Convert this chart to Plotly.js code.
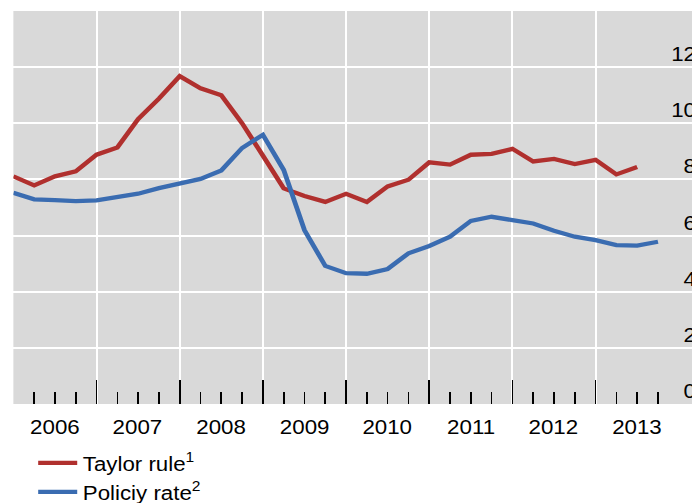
<!DOCTYPE html>
<html>
<head>
<meta charset="utf-8">
<script src="https://cdn.plot.ly/plotly-3.0.1.min.js"></script>
<style>
html,body{margin:0;padding:0;background:#fff;overflow:hidden;width:692px;height:503px;}
#chart{width:628px;height:503px;transform:scaleX(1.115);transform-origin:0 0;}
</style>
</head>
<body>
<div id="chart"></div>
<script>
// quarterly observations, decimal years
var quarters = [2006.00,2006.25,2006.50,2006.75,2007.00,2007.25,2007.50,2007.75,
                2008.00,2008.25,2008.50,2008.75,2009.00,2009.25,2009.50,2009.75,
                2010.00,2010.25,2010.50,2010.75,2011.00,2011.25,2011.50,2011.75,
                2012.00,2012.25,2012.50,2012.75,2013.00,2013.25,2013.50,2013.75];
var taylorRule = [8.11,7.79,8.11,8.29,8.88,9.14,10.15,10.88,
                  11.68,11.25,11.00,10.00,8.85,7.68,7.41,7.20,
                  7.49,7.20,7.75,7.99,8.61,8.53,8.88,8.91,
                  9.09,8.64,8.73,8.55,8.70,8.18,8.44];
var policyRate = [7.52,7.29,7.26,7.23,7.25,7.36,7.49,7.69,
                  7.87,8.02,8.32,9.12,9.59,8.34,6.19,4.92,
                  4.66,4.64,4.81,5.37,5.63,5.96,6.52,6.67,
                  6.55,6.43,6.17,5.96,5.84,5.66,5.64,5.78];
var years = [2006,2007,2008,2009,2010,2011,2012,2013];
var yearBounds = [2007,2008,2009,2010,2011,2012,2013];
var yTicks = [0,2,4,6,8,10,12];

var minorTicks = [];
years.forEach(function(y){ [0.25,0.5,0.75].forEach(function(q){ minorTicks.push(y+q); }); });

var traces = [
  {x: quarters.slice(0, taylorRule.length), y: taylorRule, type:'scatter', mode:'lines',
   name:'Taylor rule<sup>1</sup>', line:{color:'#B0302E', width:4.3}},
  {x: quarters, y: policyRate, type:'scatter', mode:'lines',
   name:'Policiy rate<sup>2</sup>', line:{color:'#3A6CB1', width:4.3}}
];

var font = {family:'Liberation Sans, Arial, sans-serif', size:20, color:'#000'};
var xRange = [2006, 2014.258];

var annotations = [];
years.forEach(function(y){
  annotations.push({x:y+0.5, xref:'x', y:-0.058, yref:'paper', text:String(y),
    showarrow:false, xanchor:'center', yanchor:'middle', font:font});
});
yTicks.forEach(function(v){
  annotations.push({x:0.997, xref:'paper', y:v, yref:'y', text:String(v),
    showarrow:false, xanchor:'right', yanchor:'middle', yshift:13, font:font});
});

var layout = {
  width:628, height:503,
  margin:{l:11.75, r:0, t:11, b:99, pad:0, autoexpand:false},
  paper_bgcolor:'#ffffff', plot_bgcolor:'#D9D9D9',
  font:font,
  showlegend:true,
  legend:{x:0.028, y:-0.1, xanchor:'left', yanchor:'top', orientation:'v',
          bgcolor:'rgba(0,0,0,0)', font:font, tracegroupgap:0, itemwidth:35},
  annotations:annotations,
  xaxis:{range:xRange, tickmode:'array', tickvals:yearBounds, showticklabels:false,
         ticks:'inside', ticklen:24, tickwidth:1.5, tickcolor:'#000',
         showgrid:true, gridcolor:'#ffffff', gridwidth:1.8, zeroline:false, showline:false,
         minor:{tickmode:'array', tickvals:minorTicks, ticks:'inside', ticklen:12,
                tickwidth:1.5, tickcolor:'#000', showgrid:false},
         fixedrange:true},
  yaxis:{range:[0,14], tickmode:'array', tickvals:yTicks, showticklabels:false, ticks:'',
         showgrid:true, gridcolor:'#ffffff', gridwidth:2, zeroline:false, showline:false,
         fixedrange:true}
};

Plotly.newPlot('chart', traces, layout, {displayModeBar:false, staticPlot:true});
</script>
</body>
</html>
